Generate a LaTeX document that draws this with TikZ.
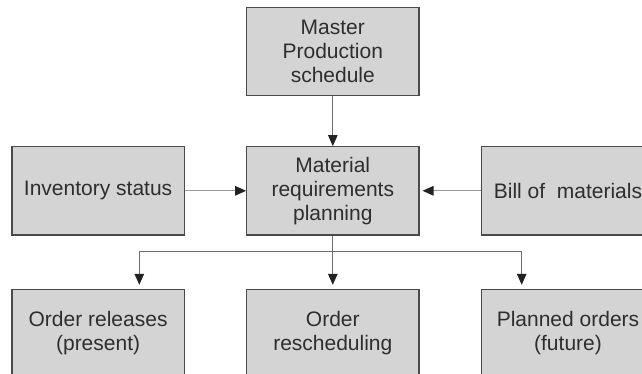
\documentclass[tikz,border=0pt]{standalone}
\usepackage{fontspec}
\setmainfont{Liberation Sans}
\usetikzlibrary{arrows.meta}
\definecolor{boxfill}{HTML}{D4D4D4}
\definecolor{boxline}{HTML}{4A4A4A}
\definecolor{txt}{HTML}{2E2E2E}
\definecolor{flow}{HTML}{6E6E6E}
\definecolor{feed}{HTML}{9A9A9A}
\definecolor{tip}{HTML}{222222}
\begin{document}
\begin{tikzpicture}[x=1pt,y=1pt,
  block/.style={draw=boxline, fill=boxfill, line width=1.1pt, inner sep=0pt,
    minimum width=172.3pt, minimum height=88.3pt, align=center, text=txt,
    font=\fontsize{21}{24}\selectfont},
  flowline/.style={draw=flow, line width=1.1pt,
    -{Triangle[length=11pt,width=9.5pt,fill=tip,color=tip]}},
  feedline/.style={draw=feed, line width=1.1pt,
    -{Triangle[length=11pt,width=9.5pt,fill=tip,color=tip]}}]
\useasboundingbox (0,0) rectangle (642,-373);
\clip (0,0) rectangle (642,-373);
\fill[white] (0,0) rectangle (642,-373);

% inputs and the planning step
\node[block] (mps) at (332.8,-51.3) {Master\\Production\\schedule};
\node[block] (mrp) at (332.8,-190.8) {Material\\requirements\\planning};
\node[block] (inv) at (98.1,-190.8) {Inventory status};
\node[block] (bom) at (568,-190.8) {Bill of\ \ materials};

% outputs
\node[block] (rel) at (98.1,-333.5) {Order releases\\(present)};
\node[block] (res) at (332.8,-333.5) {Order\\rescheduling};
\node[block] (pln) at (568,-333.5) {Planned orders\\(future)};

% arrows into the planning step
\draw[flowline] (mps) -- (mrp);
\draw[feedline] (inv) -- (mrp);
\draw[feedline, shorten >=3pt] (bom) -- (mrp);

% branching outputs
\coordinate (split) at (332.8,-251.7);
\coordinate (lturn) at (139.3,-251.7);
\coordinate (rturn) at (521.7,-251.7);
\draw[flowline, shorten >=4pt] (mrp.south) -- (res.north);
\draw[flowline, shorten >=4pt] (split) -- (lturn) -- (lturn |- rel.north);
\draw[flowline, shorten >=4pt] (split) -- (rturn) -- (rturn |- pln.north);
\end{tikzpicture}
\end{document}
